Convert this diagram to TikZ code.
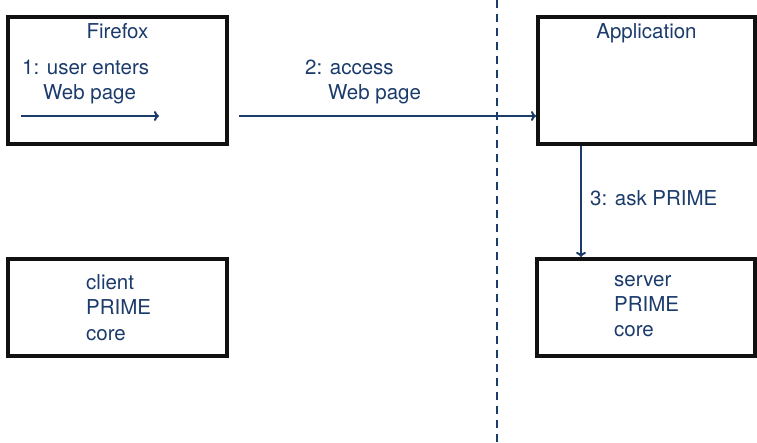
\documentclass[tikz,border=0pt]{standalone}
\usepackage{fontspec}
\setmainfont{TeX Gyre Heros}
\usetikzlibrary{arrows.meta}
\definecolor{navy1}{HTML}{1B3B6B}
\definecolor{frame1}{HTML}{111111}

\begin{document}
\begin{tikzpicture}[x=1pt,y=-1pt,font=\fontsize{20.5}{25.5}\selectfont]
\useasboundingbox (0,0) rectangle (757,443);

% Boxes:
\begin{scope}[every node/.style={draw=frame1,line width=4pt,inner sep=0pt}]
\node [minimum width=219pt,minimum height=127pt] (firefox) at (117.5,80.5) {};
\node [minimum width=217pt,minimum height=127pt] (app) at (646.5,80.5) {};
\node [minimum width=219pt,minimum height=97pt] (client) at (117.5,307.5) {};
\node [minimum width=218pt,minimum height=97pt] (server) at (646,307.5) {};
\end{scope}

% Divider:
\draw [navy1,line width=2pt,dash pattern=on 8pt off 6pt] (497,0) -- (497,443);

% Labels:
\begin{scope}[navy1,every node/.style={inner sep=0pt}]
\node [anchor=base] (firefox_t) at (117.5,39) {Firefox};
\node [anchor=base] (app_t) at (646.5,39) {Application};

\node [anchor=base west] (step1_a) at (22,75) {1: user enters};
\node [anchor=base west] (step1_b) at (43,100) {Web page};

\node [anchor=base west] (step2_a) at (305,75) {2: access};
\node [anchor=base west] (step2_b) at (328,100) {Web page};

\node [anchor=base west] (step3) at (590,206) {3: ask PRIME};

% base of a multi-line node is its last line
\node [anchor=base west,align=left] (client_t) at (86,340) {client\\PRIME\\core};
\node [anchor=base west,align=left] (server_t) at (614,337) {server\\PRIME\\core};
\end{scope}

% Start and end points
\coordinate (start_1) at (21,116);
\coordinate (end_1) at (159,116);
\coordinate (start_2) at (239,116);
\coordinate (start_3) at (581,146);

% Lines connecting start and end
\begin{scope}[navy1,line width=2pt,every path/.style={draw, -{To[length=5pt,width=10pt]}}]
\path (start_1) -- (end_1);
\path (start_2) -- (app.west |- start_2);
\path (start_3) -- (start_3 |- server.north);
\end{scope}
\end{tikzpicture}
\end{document}
